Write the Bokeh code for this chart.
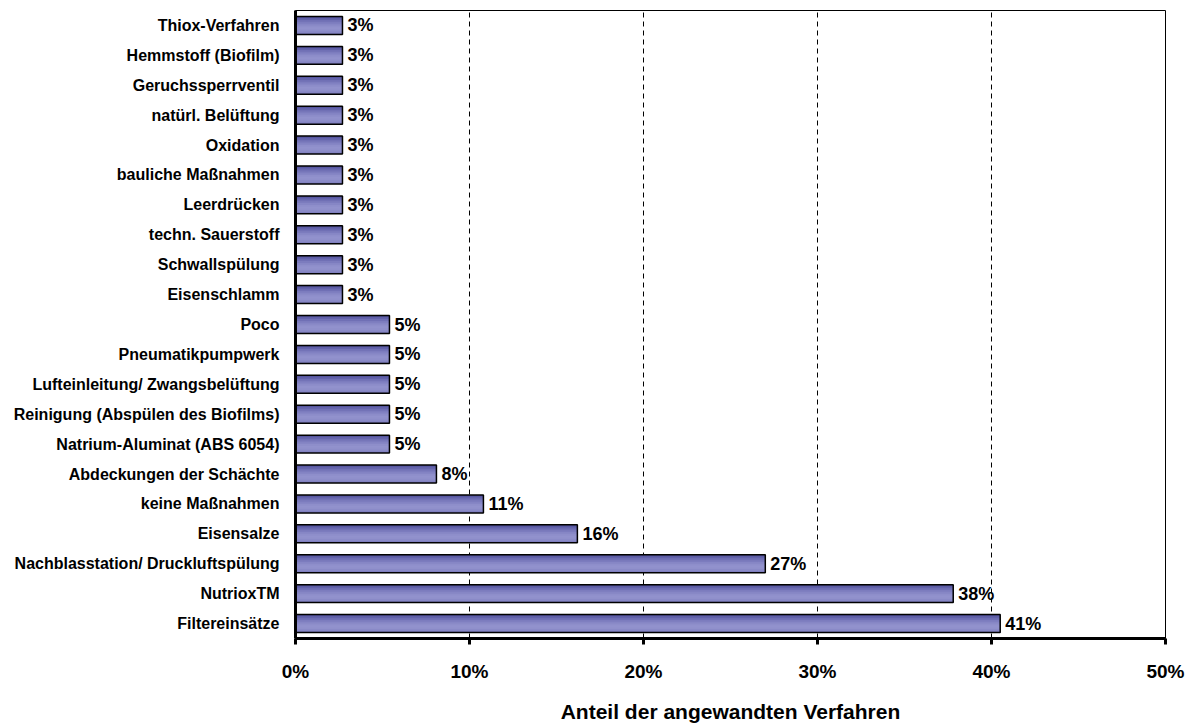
from bokeh.plotting import figure
from bokeh.models import Range1d, FactorRange, FixedTicker, ColumnDataSource
from bokeh.transform import dodge
from bokeh.core.properties import value
from bokeh.embed import file_html
from bokeh.resources import INLINE

# ---- data (top to bottom as shown) ----
categories = [
    "Thiox-Verfahren", "Hemmstoff (Biofilm)", "Geruchssperrventil",
    "natürl. Belüftung", "Oxidation", "bauliche Maßnahmen", "Leerdrücken",
    "techn. Sauerstoff", "Schwallspülung", "Eisenschlamm", "Poco",
    "Pneumatikpumpwerk", "Lufteinleitung/ Zwangsbelüftung",
    "Reinigung (Abspülen des Biofilms)", "Natrium-Aluminat (ABS 6054)",
    "Abdeckungen der Schächte", "keine Maßnahmen", "Eisensalze",
    "Nachblasstation/ Druckluftspülung", "NutrioxTM", "Filtereinsätze",
]
shares = [2.7, 2.7, 2.7, 2.7, 2.7, 2.7, 2.7, 2.7, 2.7, 2.7,
          5.4, 5.4, 5.4, 5.4, 5.4,
          8.1, 10.8, 16.2, 27.0, 37.8, 40.5]
share_labels = ["3%", "3%", "3%", "3%", "3%", "3%", "3%", "3%", "3%", "3%",
                "5%", "5%", "5%", "5%", "5%",
                "8%", "11%", "16%", "27%", "38%", "41%"]
x_ticks = [0, 10, 20, 30, 40, 50]
x_tick_labels = ["0%", "10%", "20%", "30%", "40%", "50%"]
x_title = "Anteil der angewandten Verfahren"

FONT = "Liberation Sans"

source = ColumnDataSource(dict(cat=categories, share=shares, label=share_labels))

p = figure(
    width=1192, height=725,
    y_range=FactorRange(factors=list(reversed(categories))),
    x_range=Range1d(0, 50),
    output_backend="svg", toolbar_location=None,
    min_border_left=295, min_border_right=27, min_border_top=10, min_border_bottom=85,
)
p.background_fill_color = "white"
p.border_fill_color = "white"
p.outline_line_color = "black"
p.outline_line_width = 1

# gridlines
p.ygrid.grid_line_color = None
p.xgrid.ticker = FixedTicker(ticks=x_ticks)
p.xgrid.grid_line_color = "black"
p.xgrid.grid_line_dash = "5 4"
p.xgrid.grid_line_width = 1

# gradient bars: overlapping layers, each running from a lower top edge to the bar bottom
bar_h = 0.6
grad = ["#55559f", "#6262aa", "#7070b5", "#7c7cbe", "#8686c5",
        "#8e8eca", "#9292cd", "#9090cb", "#8a8ac7", "#8080c0"]
n = len(grad)
sh = bar_h / n
for i, c in enumerate(grad):
    h = bar_h - i * sh
    off = -i * sh / 2
    p.hbar(y=dodge("cat", off, range=p.y_range), left=0, right="share",
           height=h, fill_color=c, line_color=None, source=source)
p.hbar(y="cat", left=0, right="share", height=bar_h, fill_color=None,
       line_color="black", line_width=1.5, source=source)

# value labels
p.text(x="share", y="cat", text="label", x_offset=5, source=source,
       text_font=value(FONT), text_font_style="bold", text_font_size="18px",
       text_baseline="middle", text_align="left", text_color="black")

# x axis
xa = p.xaxis[0]
xa.ticker = FixedTicker(ticks=x_ticks)
xa.major_label_overrides = {t: l for t, l in zip(x_ticks, x_tick_labels)}
xa.axis_line_width = 3
xa.axis_line_color = "black"
xa.major_tick_line_width = 3
xa.major_tick_line_color = "black"
xa.major_tick_out = 6
xa.major_tick_in = 0
xa.minor_tick_line_color = None
xa.major_label_text_font = FONT
xa.major_label_text_font_style = "bold"
xa.major_label_text_font_size = "19px"
xa.major_label_text_color = "black"
xa.major_label_standoff = 16
xa.axis_label = x_title
xa.axis_label_text_font = FONT
xa.axis_label_text_font_style = "bold"
xa.axis_label_text_font_size = "21px"
xa.axis_label_text_color = "black"
xa.axis_label_standoff = 15

# y axis
ya = p.yaxis[0]
ya.axis_line_width = 3
ya.axis_line_color = "black"
ya.major_tick_line_color = None
ya.minor_tick_line_color = None
ya.major_label_text_font = FONT
ya.major_label_text_font_style = "bold"
ya.major_label_text_font_size = "16px"
ya.major_label_text_color = "black"
ya.major_label_standoff = 10

open("out.html", "w").write(file_html(p, INLINE))
